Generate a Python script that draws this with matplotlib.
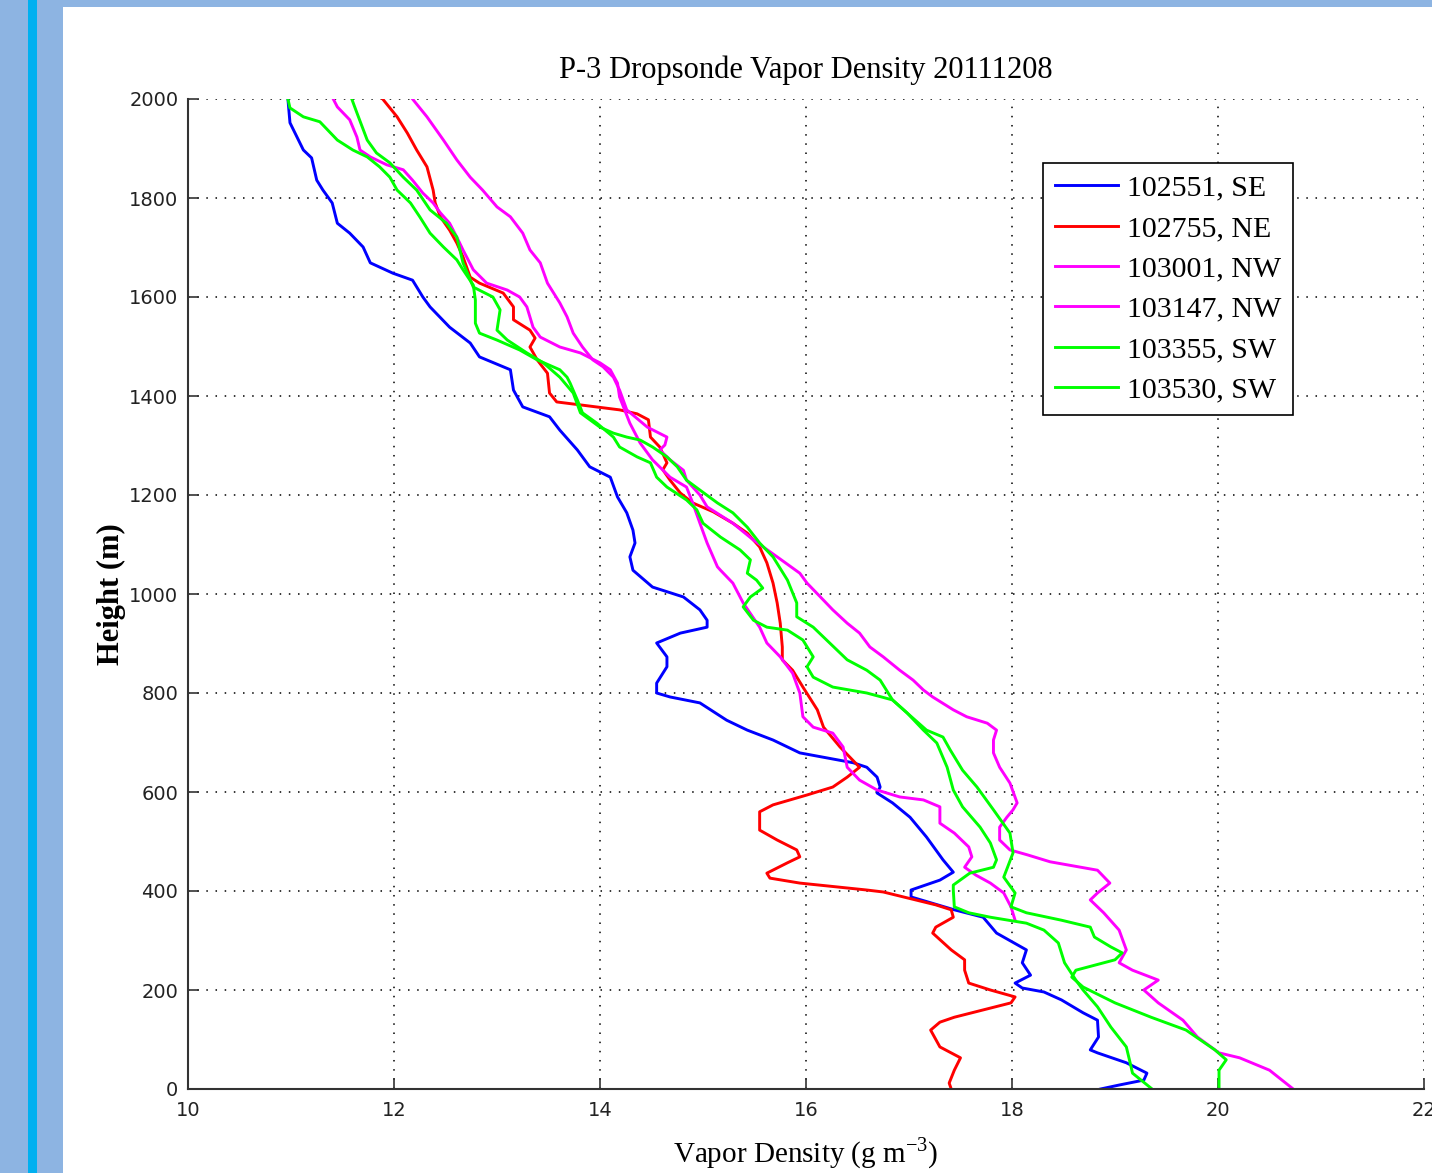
import numpy as np
import matplotlib.pyplot as plt
from matplotlib.patches import Rectangle

# perfis de densidade de vapor (g m-3) x altura (m)
h_102551 = [2000, 1952, 1897, 1881, 1836, 1816, 1790, 1749, 1729, 1701, 1669, 1648, 1634, 1600, 1580,
            1539, 1507, 1479, 1453, 1412, 1378, 1358, 1331, 1291, 1257, 1236, 1196, 1164, 1129, 1103,
            1075, 1048, 1014, 994, 968, 947, 933, 921, 901, 873, 853, 820, 800, 792, 780, 745, 725,
            705, 679, 669, 659, 650, 630, 610, 598, 578, 549, 509, 463, 438, 422, 402, 388, 362, 347,
            315, 281, 255, 230, 214, 204, 196, 180, 154, 139, 105, 79, 73, 53, 32, 18, 8, 0]
v_102551 = [10.97, 10.99, 11.12, 11.20, 11.25, 11.31, 11.40, 11.45, 11.57, 11.70, 11.77, 11.99, 12.18,
            12.28, 12.35, 12.54, 12.74, 12.83, 13.13, 13.16, 13.25, 13.51, 13.61, 13.78, 13.90, 14.10,
            14.17, 14.26, 14.32, 14.34, 14.29, 14.32, 14.51, 14.81, 14.97, 15.04, 15.04, 14.78, 14.55,
            14.65, 14.65, 14.55, 14.55, 14.68, 14.97, 15.23, 15.43, 15.68, 15.94, 16.20, 16.46, 16.59,
            16.69, 16.72, 16.69, 16.84, 17.01, 17.17, 17.33, 17.43, 17.30, 17.02, 17.02, 17.44, 17.72,
            17.85, 18.14, 18.10, 18.18, 18.03, 18.10, 18.31, 18.48, 18.69, 18.83, 18.84, 18.76, 18.83,
            19.11, 19.31, 19.28, 19.04, 18.86]

h_102755 = [2000, 1964, 1931, 1897, 1863, 1816, 1790, 1762, 1735, 1709, 1681, 1640, 1628, 1608, 1580,
            1554, 1533, 1517, 1499, 1473, 1446, 1406, 1388, 1382, 1372, 1364, 1352, 1317, 1297, 1265,
            1251, 1230, 1204, 1184, 1166, 1143, 1123, 1095, 1063, 1022, 982, 941, 893, 867, 846, 812,
            766, 731, 691, 650, 630, 610, 594, 574, 560, 523, 503, 483, 469, 457, 436, 426, 416, 402,
            398, 372, 362, 347, 327, 315, 281, 261, 240, 214, 200, 186, 174, 145, 135, 119, 85, 63, 38,
            12, 0]
v_102755 = [11.89, 12.03, 12.13, 12.22, 12.32, 12.38, 12.40, 12.45, 12.54, 12.61, 12.67, 12.74, 12.83,
            13.06, 13.16, 13.16, 13.32, 13.37, 13.32, 13.39, 13.49, 13.51, 13.58, 13.81, 14.19, 14.36,
            14.47, 14.49, 14.58, 14.65, 14.61, 14.68, 14.78, 14.90, 15.10, 15.29, 15.43, 15.55, 15.62,
            15.68, 15.72, 15.75, 15.77, 15.77, 15.87, 15.97, 16.11, 16.17, 16.33, 16.52, 16.40, 16.26,
            16.01, 15.68, 15.55, 15.55, 15.72, 15.91, 15.94, 15.82, 15.62, 15.65, 15.94, 16.59, 16.75,
            17.26, 17.41, 17.43, 17.26, 17.23, 17.41, 17.54, 17.54, 17.58, 17.79, 18.03, 17.99, 17.44,
            17.30, 17.21, 17.30, 17.50, 17.44, 17.39, 17.41]

h_103001 = [2000, 1964, 1917, 1877, 1842, 1816, 1782, 1762, 1729, 1695, 1669, 1628, 1588, 1560, 1527,
            1499, 1473, 1459, 1438, 1412, 1372, 1337, 1317, 1301, 1291, 1271, 1250, 1230, 1200, 1176,
            1143, 1109, 1075, 1042, 1022, 994, 968, 941, 921, 893, 873, 846, 826, 806, 792, 766, 752,
            739, 725, 705, 679, 650, 618, 578, 564, 549, 529, 503, 483, 473, 459, 442, 416, 396, 382,
            356, 321, 281, 255, 240, 220, 200, 174, 139, 105, 73, 63, 38, 0]
v_103001 = [12.18, 12.32, 12.48, 12.61, 12.74, 12.86, 13.00, 13.13, 13.25, 13.32, 13.42, 13.49, 13.61,
            13.68, 13.74, 13.83, 13.93, 14.03, 14.13, 14.19, 14.26, 14.46, 14.65, 14.63, 14.58, 14.68,
            14.81, 14.84, 14.97, 15.04, 15.29, 15.49, 15.72, 15.94, 16.01, 16.14, 16.26, 16.40, 16.52,
            16.62, 16.75, 16.91, 17.04, 17.14, 17.23, 17.43, 17.56, 17.76, 17.85, 17.82, 17.82, 17.88,
            17.98, 18.05, 18.01, 17.95, 17.88, 17.88, 17.98, 18.15, 18.37, 18.83, 18.95, 18.83, 18.76,
            18.89, 19.04, 19.11, 19.04, 19.17, 19.42, 19.28, 19.42, 19.66, 19.80, 20.01, 20.21, 20.50,
            20.73]

h_103147 = [2000, 1984, 1958, 1923, 1897, 1883, 1867, 1857, 1836, 1810, 1790, 1770, 1749, 1721, 1695,
            1655, 1628, 1614, 1600, 1580, 1539, 1519, 1499, 1487, 1467, 1453, 1426, 1398, 1345, 1305,
            1271, 1236, 1216, 1184, 1143, 1103, 1055, 1048, 1022, 982, 933, 901, 873, 840, 800, 752,
            731, 719, 691, 650, 624, 604, 590, 584, 570, 537, 517, 489, 469, 448, 432, 416, 396, 368, 341]
v_103147 = [11.41, 11.45, 11.57, 11.64, 11.67, 11.77, 11.93, 12.09, 12.18, 12.28, 12.38, 12.45, 12.54,
            12.61, 12.67, 12.77, 12.90, 13.10, 13.22, 13.29, 13.35, 13.42, 13.61, 13.81, 14.00, 14.10,
            14.17, 14.19, 14.29, 14.39, 14.51, 14.68, 14.84, 14.90, 14.97, 15.04, 15.14, 15.17, 15.29,
            15.39, 15.55, 15.62, 15.75, 15.87, 15.94, 15.97, 16.07, 16.26, 16.36, 16.40, 16.52, 16.69,
            16.91, 17.14, 17.30, 17.30, 17.44, 17.58, 17.61, 17.54, 17.65, 17.79, 17.92, 17.99, 18.03]

h_103355 = [2000, 1982, 1964, 1954, 1917, 1897, 1883, 1863, 1842, 1816, 1790, 1762, 1729, 1701, 1675,
            1655, 1624, 1594, 1547, 1527, 1513, 1493, 1473, 1453, 1438, 1426, 1392, 1366, 1345, 1317,
            1297, 1277, 1265, 1236, 1216, 1190, 1170, 1143, 1115, 1089, 1069, 1042, 1028, 1012, 994,
            974, 947, 933, 927, 907, 873, 853, 832, 812, 800, 786, 760, 725, 699, 650, 604, 570, 529,
            497, 463, 448, 436, 412, 402, 368, 356, 347, 335, 321, 295, 255, 220, 200, 166, 125, 85,
            59, 32, 0]
v_103355 = [10.97, 10.99, 11.12, 11.28, 11.45, 11.60, 11.74, 11.86, 11.96, 12.03, 12.16, 12.25, 12.35,
            12.48, 12.61, 12.67, 12.77, 12.79, 12.79, 12.83, 13.00, 13.22, 13.39, 13.61, 13.68, 13.71,
            13.78, 13.83, 13.97, 14.13, 14.19, 14.36, 14.49, 14.55, 14.65, 14.84, 14.94, 15.00, 15.17,
            15.36, 15.46, 15.43, 15.52, 15.58, 15.46, 15.39, 15.49, 15.62, 15.82, 15.97, 16.07, 16.01,
            16.07, 16.26, 16.59, 16.84, 16.98, 17.14, 17.27, 17.37, 17.43, 17.52, 17.69, 17.79, 17.85,
            17.82, 17.59, 17.43, 17.43, 17.44, 17.58, 17.79, 18.14, 18.31, 18.45, 18.51, 18.62, 18.69,
            18.83, 18.96, 19.11, 19.14, 19.17, 19.36]

h_103530 = [2000, 1972, 1917, 1891, 1871, 1842, 1816, 1776, 1749, 1721, 1669, 1620, 1600, 1574, 1533,
            1513, 1487, 1467, 1438, 1406, 1366, 1337, 1325, 1317, 1311, 1297, 1277, 1257, 1230, 1210,
            1184, 1164, 1135, 1103, 1075, 1028, 982, 954, 933, 901, 867, 846, 826, 786, 760, 725, 711,
            685, 644, 610, 564, 517, 477, 428, 396, 368, 356, 341, 327, 307, 287, 275, 261, 240, 226,
            206, 174, 145, 119, 79, 59, 38, 0]
v_103530 = [11.59, 11.64, 11.74, 11.83, 11.96, 12.09, 12.22, 12.35, 12.51, 12.61, 12.67, 12.77, 12.96,
            13.03, 13.00, 13.10, 13.29, 13.45, 13.61, 13.74, 13.81, 14.00, 14.13, 14.26, 14.39, 14.51,
            14.65, 14.75, 14.84, 14.97, 15.14, 15.29, 15.43, 15.55, 15.68, 15.82, 15.91, 15.91, 16.07,
            16.23, 16.40, 16.59, 16.72, 16.84, 16.98, 17.17, 17.33, 17.40, 17.52, 17.66, 17.82, 17.98,
            18.01, 17.92, 18.03, 17.99, 18.14, 18.48, 18.76, 18.80, 18.96, 19.07, 19.00, 18.62, 18.58,
            18.69, 19.00, 19.35, 19.69, 19.97, 20.08, 20.01, 20.01]

labels = ['102551, SE', '102755, NE', '103001, NW', '103147, NW', '103355, SW', '103530, SW']
cores = ['#0000ff', '#ff0000', '#ff00ff', '#ff00ff', '#00ff00', '#00ff00']

serif = 'Liberation Serif'
plt.rcParams['mathtext.fontset'] = 'custom'
plt.rcParams['mathtext.rm'] = serif

fig = plt.figure(figsize=(14.32, 11.73), dpi=100, facecolor='#8db4e2')
# moldura da janela (faixa ciano e area branca), atras dos eixos
fig.patches.append(Rectangle((28 / 1432, 0), 9 / 1432, 1, transform=fig.transFigure,
                             facecolor='#00b0f0', edgecolor='none', zorder=-10))
fig.patches.append(Rectangle((63 / 1432, 0), 1 - 63 / 1432, 1 - 7 / 1173, transform=fig.transFigure,
                             facecolor='white', edgecolor='none', zorder=-10))

ax = fig.add_axes([188 / 1432, 84 / 1173, 1236 / 1432, 990 / 1173])
ax.set_zorder(5)
ax.set_facecolor('white')

perfis = [(v_102551, h_102551), (v_102755, h_102755), (v_103001, h_103001),
          (v_103147, h_103147), (v_103355, h_103355), (v_103530, h_103530)]
for (v, h), c, lab in zip(perfis, cores, labels):
    ax.plot(v, h, color=c, lw=2.1, label=lab)

ax.set_xlim(10, 22)
ax.set_ylim(0, 2000)
ax.set_xticks(np.arange(10, 23, 2))
ax.set_yticks(np.arange(0, 2001, 200))
ax.grid(True, color='black', linestyle=(0, (1, 5)), lw=1.1)
ax.spines['top'].set_visible(False)
ax.spines['right'].set_visible(False)
for s in ['left', 'bottom']:
    ax.spines[s].set_color('#333333')
    ax.spines[s].set_linewidth(1.5)
ax.tick_params(direction='in', length=8, width=1.2, color='#333333', labelsize=14,
               labelcolor='#222222', top=False, right=False)
ax.tick_params(axis='x', pad=9)
ax.tick_params(axis='y', pad=7)

ax.set_title('P-3 Dropsonde Vapor Density 20111208', family=serif, fontsize=22, pad=15)
ax.set_xlabel('Vapor Density (g m$^{-3}$)', family=serif, fontsize=21, labelpad=11)
ax.set_ylabel('Height (m)', family=serif, fontsize=22, fontweight='bold', labelpad=2)

leg = ax.legend(loc='upper left', bbox_to_anchor=(1043 / 1432, 1 - 163 / 1173),
                bbox_transform=fig.transFigure, prop={'family': serif, 'size': 21.5},
                frameon=True, fancybox=False, edgecolor='black', framealpha=1,
                handlelength=2.1, handletextpad=0.3, labelspacing=0.45, borderpad=0.4,
                borderaxespad=0)
leg.get_frame().set_linewidth(1.2)

fig.savefig('out.png', dpi=100, facecolor=fig.get_facecolor())
